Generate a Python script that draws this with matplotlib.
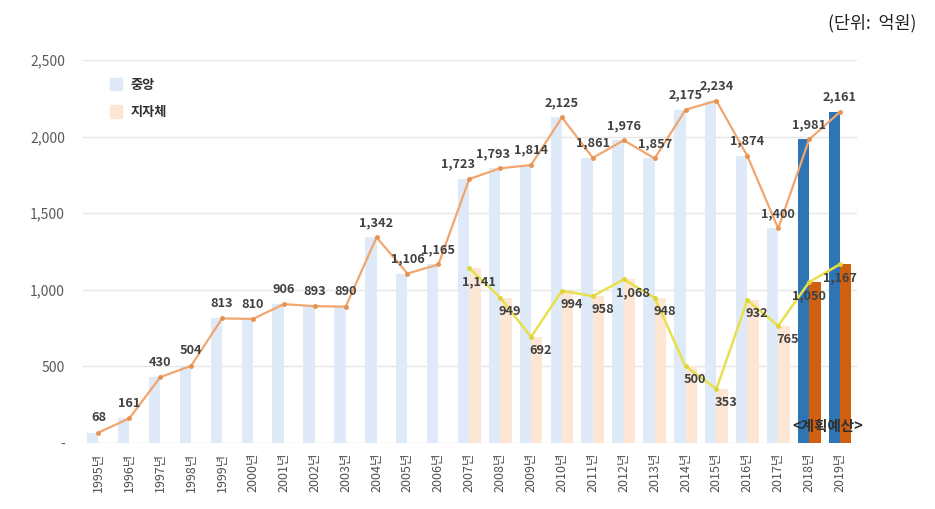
import numpy as np
import matplotlib
matplotlib.use("Agg")
import matplotlib.pyplot as plt
from matplotlib.patches import Patch

plt.rcParams['font.family'] = ['Noto Sans CJK KR', 'DejaVu Sans']

# data (단위: 억원)
years = list(range(1995, 2020))
central = [68, 161, 430, 504, 813, 810, 906, 893, 890, 1342, 1106, 1165,
           1723, 1793, 1814, 2125, 1861, 1976, 1857, 2175, 2234, 1874, 1400, 1981, 2161]
local_years = list(range(2007, 2020))
local = [1141, 949, 692, 994, 958, 1068, 948, 500, 353, 932, 765, 1050, 1167]
planned_from = 2018
year_labels = [f"{y}년" for y in years]

x = np.arange(len(years))
xl = np.array([years.index(y) for y in local_years])
w = 0.37

fig = plt.figure(figsize=(9.35, 5.09), dpi=100)
ax = fig.add_axes([0.0888, 0.1297, 0.8278, 0.7525])

# bars - light for actual, dark for planned budget
c_cols = ['#2e75b6' if y >= planned_from else '#deeaf7' for y in years]
l_cols = ['#d0600f' if y >= planned_from else '#fde6d3' for y in local_years]
ax.bar(x - w / 2, central, width=w, color=c_cols, zorder=2)
ax.bar(xl + w / 2, local, width=w, color=l_cols, zorder=2)

# lines
ax.plot(x, central, color='#f0a66e', lw=1.6, marker='o', ms=2.5,
        mfc='#e8924f', mec='#e8924f', zorder=3)
ax.plot(xl, local, color='#e8e04c', lw=1.8, marker='o', ms=2.5,
        mfc='#e0d43a', mec='#e0d43a', zorder=3)

# value labels (a few nudged sideways so crowded ones don't collide)
nudge = {2007: -8, 2008: -5}
for xi, v, y in zip(x, central, years):
    ax.annotate(f"{v:,}", (xi, v), xytext=(nudge.get(y, 0), 6),
                textcoords='offset points', ha='center', va='bottom',
                fontsize=9.2, fontweight='bold', color='#404040', zorder=4)
for xi, v, y in zip(xl, local, local_years):
    dx = 0 if y >= planned_from else 7
    ax.annotate(f"{v:,}", (xi, v), xytext=(dx, -5), textcoords='offset points',
                ha='center', va='top', fontsize=9.2, fontweight='bold',
                color='#404040', zorder=4)

ax.text(years.index(2019) - 0.4, 110, "<계획예산>", ha='center', va='center',
        fontsize=10.5, fontweight='bold', color='#303030', zorder=5)

ax.set_xlim(-0.5, 24.55)
ax.set_ylim(0, 2500)
ax.set_yticks([0, 500, 1000, 1500, 2000, 2500])
ax.set_yticklabels(['-', '500', '1,000', '1,500', '2,000', '2,500'])
ax.set_xticks(x)
ax.set_xticklabels(year_labels, rotation=90, fontsize=9, color='#505050')
ax.tick_params(axis='y', length=0, labelsize=10, labelcolor='#595959', pad=13)
ax.tick_params(axis='x', length=0, pad=7)
ax.grid(axis='y', color='#e6e6e6', lw=1, zorder=0)
ax.set_axisbelow(True)
for s in ax.spines.values():
    s.set_visible(False)

handles = [Patch(color='#deeaf7', label='중앙'), Patch(color='#fde6d3', label='지자체')]
leg = ax.legend(handles=handles, loc='upper left', bbox_to_anchor=(0.02, 0.985),
                frameon=False, fontsize=9.5, handlelength=0.9, handleheight=1.1,
                labelspacing=1.0, handletextpad=0.6)
for t in leg.get_texts():
    t.set_fontweight('bold')
    t.set_color('#303030')

fig.text(0.98, 0.955, "(단위:  억원)", ha='right', va='center', fontsize=12.5,
         color='#202020')

fig.savefig('out.png', dpi=100)
